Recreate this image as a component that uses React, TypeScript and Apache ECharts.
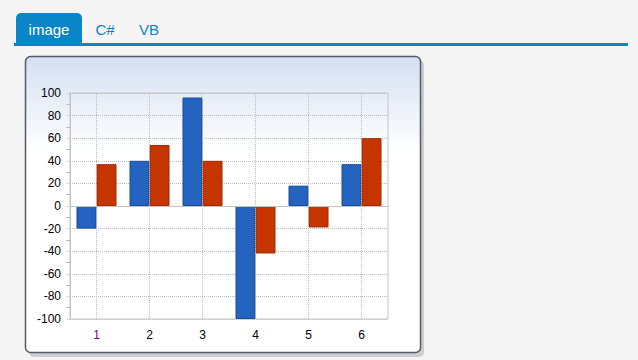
import React, { useEffect, useRef } from "react";
import * as echarts from "echarts";

const categories = ["1", "2", "3", "4", "5", "6"];
const seriesA = [-20, 40, 96, -100, 18, 37];
const seriesB = [37, 54, 40, -42, -19, 60];
const tabLabels = ["image", "C#", "VB"];

const BLUE_TAB = "#0A85C8";

export default function App() {
  const ref = useRef<HTMLDivElement>(null);
  useEffect(() => {
    if (!ref.current) return;
    const chart = echarts.init(ref.current, undefined, { renderer: "svg" });
    chart.setOption({
      animation: false,
      graphic: [
        { type: "rect", shape: { x: 0, y: 0, width: 638, height: 360 }, style: { fill: "#F5F5F5" }, z: -10 },
        { type: "rect", shape: { x: 16, y: 13, width: 66, height: 31, r: [5, 5, 0, 0] }, style: { fill: BLUE_TAB }, z: -5 },
        { type: "text", x: 49, y: 29, style: { text: tabLabels[0], fill: "#fff", font: "15px Arial, 'Liberation Sans'", align: "center", verticalAlign: "middle" }, z: -4 },
        { type: "text", x: 105, y: 29, style: { text: tabLabels[1], fill: BLUE_TAB, font: "15px Arial, 'Liberation Sans'", align: "center", verticalAlign: "middle" }, z: -4 },
        { type: "text", x: 149, y: 29, style: { text: tabLabels[2], fill: BLUE_TAB, font: "15px Arial, 'Liberation Sans'", align: "center", verticalAlign: "middle" }, z: -4 },
        { type: "rect", shape: { x: 14, y: 43, width: 614, height: 3 }, style: { fill: BLUE_TAB }, z: -5 },
        { type: "rect", shape: { x: 29, y: 60, width: 395, height: 297, r: 5 }, style: { fill: "#CDCDCD" }, z: -6 },
        {
          type: "rect",
          shape: { x: 25.5, y: 56.5, width: 395, height: 296, r: 5 },
          style: {
            fill: new echarts.graphic.LinearGradient(0, 0, 0, 1, [
              { offset: 0, color: "#D5DFF2" },
              { offset: 0.32, color: "#FFFFFF" },
              { offset: 1, color: "#FFFFFF" },
            ]),
            stroke: "#525B66",
            lineWidth: 1.5,
          },
          z: -5,
        },
      ],
      grid: {
        left: 70,
        top: 93,
        width: 318,
        height: 226,
        show: true,
        borderColor: "#C4C4C4",
        borderWidth: 1,
        backgroundColor: "transparent",
      },
      xAxis: {
        type: "category",
        data: categories,
        axisLine: { show: true, lineStyle: { color: "#C4C4C4" } },
        axisTick: { show: true, alignWithLabel: true, length: 4, lineStyle: { color: "#BBBBBB", type: "dotted" } },
        axisLabel: {
          margin: 10,
          fontSize: 12,
          fontFamily: "Arial, 'Liberation Sans'",
          color: (v: string) => (v === "1" ? "#800080" : "#000000"),
        },
        splitLine: { show: false },
      },
      yAxis: {
        type: "value",
        min: -100,
        max: 100,
        interval: 20,
        axisLine: { show: true, lineStyle: { color: "#C4C4C4" } },
        axisTick: { show: true, length: 4, lineStyle: { color: "#BBBBBB", type: "dotted" } },
        minorTick: { show: true, splitNumber: 2, length: 4, lineStyle: { color: "#BBBBBB" } },
        axisLabel: { margin: 9, fontSize: 12, fontFamily: "Arial, 'Liberation Sans'", color: "#000" },
        splitLine: { show: true, lineStyle: { color: "#BBBBBB", type: "dotted" } },
      },
      series: [
        {
          type: "line",
          data: categories.map(() => null),
          symbol: "none",
          silent: true,
          z: 1,
          markLine: {
            silent: true,
            symbol: "none",
            label: { show: false },
            data: [
              ...categories.map((c) => ({ xAxis: c, lineStyle: { color: "#BBBBBB", type: "dotted", width: 1 } })),
              { yAxis: 0, lineStyle: { color: "#C4C4C4", type: "solid", width: 1 } },
            ],
          },
        },
        {
          type: "bar",
          data: seriesA,
          barWidth: 20,
          barGap: "0%",
          z: 3,
          itemStyle: { color: "#2563C1", borderColor: "#1B4B96", borderWidth: 1 },
        },
        {
          type: "bar",
          data: seriesB,
          barWidth: 20,
          barGap: "0%",
          z: 3,
          itemStyle: { color: "#C63500", borderColor: "#9C2B00", borderWidth: 1 },
        },
      ],
    });
    return () => chart.dispose();
  }, []);
  return <div ref={ref} style={{ position: "absolute", left: 0, top: 0, width: 638, height: 360 }} />;
}
